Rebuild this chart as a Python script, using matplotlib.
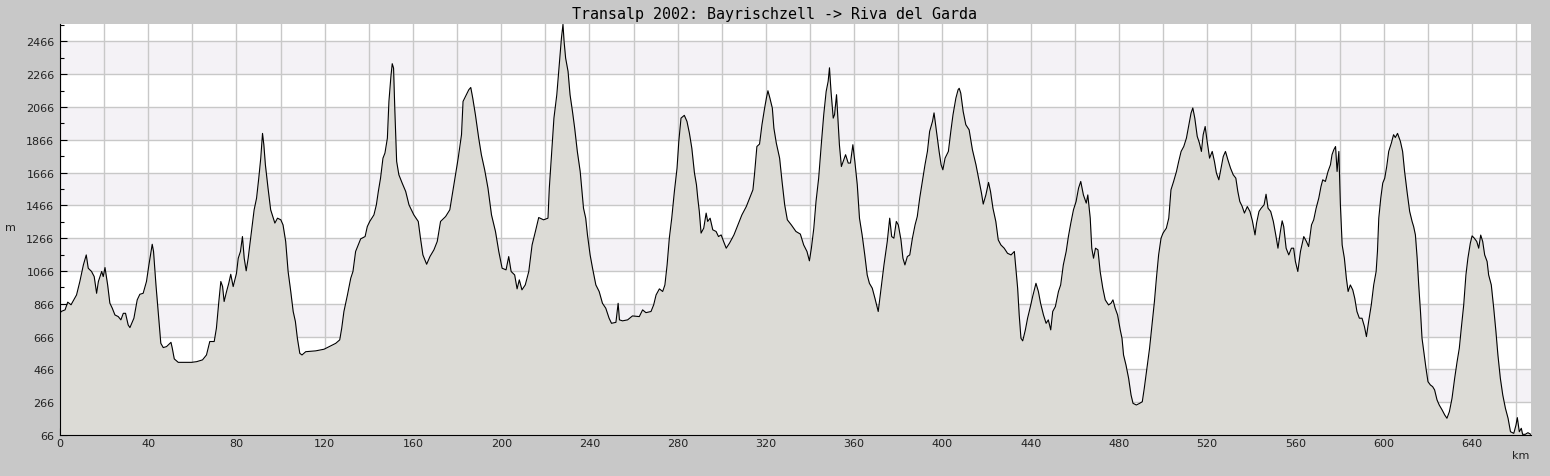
import numpy as np
import matplotlib
matplotlib.use('Agg')
import matplotlib.pyplot as plt
from matplotlib.ticker import FixedLocator, FuncFormatter

# elevation profile (km, m)
km = [0, 0.5, 2.3, 3.5, 5, 7.5, 9, 10.6, 11.9, 12.8, 14.3, 15.5, 16.6, 17.4, 18.9, 19.6, 20.4, 21.6, 22.6, 23.7,
      24.9, 26.4, 27.6, 28.7, 29.7, 30.9, 31.7, 33.5, 35, 36.2, 37.7, 39.2, 40.3, 41.8, 42.4, 43.5, 44.5, 45.7, 46.8, 48.3,
      50.3, 50.9, 51.8, 53.6, 59.6, 61.9, 64.6, 66.4, 67.9, 69.9, 70.9, 72, 72.9, 73.7, 74.4, 75.5, 76.5, 77.4, 78.5, 80,
      80.8, 81.8, 82.7, 83.5, 84.4, 85.3, 86.8, 88, 89.1, 90.1, 91, 91.8, 92.4, 93.1, 94.3, 95.5, 97.4, 98.6, 100.1, 101.1,
      102.3, 103.4, 104.6, 105.7, 106.7, 107.6, 108.7, 109.7, 111.4, 115.9, 119.7, 122.7, 125, 126.8, 127.7, 128.7, 130.3, 131.8, 132.8, 134,
      135.2, 136.3, 138.3, 139.3, 140.4, 142.3, 143.4, 144.3, 145.3, 146.4, 147.3, 148.4, 149.1, 150, 150.6, 151.2, 151.8, 152.6, 153.6, 155.1,
      156.7, 158.2, 160.4, 162.4, 163.4, 164.5, 166.2, 167.7, 169.5, 171, 172.5, 174.8, 176.7, 177.8, 179, 180.5, 182, 182.7, 183.8, 185.3,
      186.2, 187.1, 188.3, 189.8, 191, 192.5, 194, 195.6, 197.4, 198.9, 200.4, 202.2, 203.4, 204.5, 206.1, 207.2, 208.2, 209.4, 210.9, 212.5,
      214, 215.5, 217, 219.2, 221.2, 221.8, 222.7, 223.9, 225.2, 226.2, 227.3, 228, 228.5, 229.2, 230.3, 231.2, 232.3, 233.3, 234.5, 235.8,
      237.3, 238.3, 239.1, 240.3, 241.4, 242.9, 244.4, 245.9, 247.4, 248.9, 250, 252, 253, 253.6, 255, 257.3, 259.5, 262.6, 264.1, 265.6,
      267.9, 269.1, 270.2, 271.7, 273.2, 274.2, 275.2, 276.2, 277.3, 278.5, 279.7, 280.5, 281.5, 283, 284.2, 285.3, 286.4, 287.6, 288.5, 289.1,
      289.8, 290.6, 291.8, 292.9, 293.6, 294.7, 295.9, 297.4, 298.5, 299.7, 300.8, 302, 303.5, 305.5, 307.3, 309.1, 311.1, 312.6, 314.1, 314.8,
      315.9, 317.1, 318.2, 319.4, 320.2, 320.9, 321.8, 322.9, 323.6, 324.7, 326.2, 327.3, 328.5, 329.7, 331.5, 333.6, 335.6, 337.1, 338.6, 339.7,
      340.6, 341.7, 342.7, 343.9, 345.2, 346.2, 347.3, 348.2, 348.8, 349.5, 350.5, 351.1, 352, 352.6, 353.3, 354.2, 355, 356.1, 357.3, 358.3,
      359.4, 360.3, 361.4, 362.4, 363.6, 364.8, 365.9, 366.9, 368.2, 369.4, 370.5, 370.9, 372, 373.5, 375, 376.1, 377, 378, 379.1, 380,
      381.2, 382.1, 383, 384.1, 385.2, 386.4, 387.6, 388.6, 389.7, 390.9, 392.1, 393.2, 394.2, 395.5, 396.2, 397.3, 398.5, 399.4, 400.2, 401.2,
      402.7, 403.8, 404.8, 406.1, 407.1, 407.6, 408.3, 409.4, 410.6, 412.1, 413.6, 415.2, 416.7, 417.7, 418.5, 419.7, 420.9, 421.8, 422.9, 424.2,
      425.3, 426.5, 428, 429.5, 431.1, 432.6, 433.3, 434.1, 434.8, 435.6, 436.4, 437.6, 438.6, 439.7, 440.9, 442.4, 443.5, 444.5, 445.8, 447,
      448, 449.1, 450, 451.2, 452.6, 453.6, 454.8, 456.1, 457.1, 458.2, 459.4, 460.6, 461.7, 462.7, 463.9, 465.2, 465.9, 467, 467.7, 468.5,
      469.4, 470.5, 471.5, 472.7, 473.8, 475.3, 476.4, 477.3, 478.3, 479.4, 480.6, 481.4, 482.1, 483.2, 484.4, 485.5, 486.4, 487.9, 489.4, 490.6,
      491.5, 492.7, 493.9, 495, 496.1, 497, 498, 499.1, 500, 501.5, 502.6, 503.6, 504.8, 506.1, 507.1, 508.2, 509.4, 510.6, 511.7, 512.7,
      513.5, 514.4, 515.5, 516.5, 517.4, 518.2, 519.1, 520, 521.1, 522.3, 523.3, 524.2, 525.3, 526.3, 527.3, 528.3, 529.4, 530.6, 531.8, 533,
      533.9, 534.8, 535.9, 536.9, 538.2, 539.4, 540.5, 541.7, 542.4, 543.5, 544.5, 545.8, 546.7, 547.6, 548.8, 550, 551.1, 552.1, 553.2, 554,
      554.7, 555.8, 557, 558.2, 559.2, 560, 561.1, 562.3, 563.8, 565, 566, 567.3, 568.3, 569.4, 570.6, 571.6, 572.4, 573.6, 574.8, 575.9,
      576.6, 577.4, 578.2, 578.9, 579.7, 580.4, 581.2, 582.2, 583.1, 583.9, 584.9, 586, 586.9, 587.9, 589, 590.2, 591.3, 592.2, 593.2, 594.4,
      595.5, 596.6, 597.2, 597.8, 598.7, 599.6, 600.5, 601.4, 602.3, 603.5, 604.5, 605.3, 606.3, 607.6, 608.6, 609.5, 610.6, 611.8, 612.9, 613.6,
      614.4, 615.2, 615.9, 616.7, 617.4, 618.2, 619.2, 620.1, 621.2, 622.2, 623.1, 624.2, 625.2, 626.5, 627.7, 628.7, 629.8, 631, 632.2, 633.3,
      634.3, 635.2, 636.3, 637.3, 638.2, 639.3, 640.1, 641.1, 642.2, 643.1, 644, 644.9, 645.8, 646.9, 647.6, 648.8, 649.9, 650.9, 651.8, 652.9,
      654, 655.2, 656.4, 657.5, 659, 660, 660.6, 661.5, 662.4, 663, 664.2, 665.4, 666.7]
elev = [805, 819, 829, 876, 860, 920, 1002, 1103, 1164, 1083, 1063, 1032, 930, 1002, 1063, 1032, 1087, 981, 870, 839,
        798, 788, 768, 808, 808, 737, 721, 778, 890, 924, 930, 1002, 1103, 1229, 1185, 981, 819, 625, 599, 605,
        631, 595, 530, 509, 509, 513, 524, 554, 636, 636, 717, 880, 1002, 971, 880, 941, 991, 1046, 971, 1052,
        1144, 1185, 1276, 1144, 1067, 1144, 1307, 1439, 1510, 1632, 1754, 1905, 1836, 1714, 1571, 1439, 1358, 1388, 1378, 1347,
        1246, 1063, 941, 819, 758, 656, 564, 554, 574, 579, 589, 609, 625, 646, 717, 819, 920, 1022, 1063, 1185,
        1225, 1262, 1276, 1337, 1368, 1408, 1469, 1551, 1632, 1754, 1785, 1876, 2100, 2252, 2330, 2303, 2039, 1734, 1653, 1602,
        1551, 1469, 1408, 1368, 1266, 1164, 1107, 1154, 1195, 1246, 1368, 1398, 1439, 1530, 1632, 1754, 1897, 2100, 2130, 2171,
        2185, 2120, 2019, 1876, 1775, 1683, 1571, 1408, 1307, 1185, 1083, 1073, 1154, 1063, 1042, 957, 1012, 951, 981, 1063,
        1225, 1307, 1392, 1378, 1388, 1571, 1754, 1998, 2141, 2303, 2486, 2570, 2466, 2364, 2283, 2141, 2039, 1937, 1795, 1673,
        1449, 1388, 1286, 1164, 1083, 981, 941, 869, 839, 778, 747, 753, 869, 768, 762, 768, 792, 788, 829, 812,
        819, 859, 920, 957, 941, 981, 1103, 1266, 1388, 1551, 1693, 1856, 1998, 2015, 1978, 1907, 1815, 1663, 1592, 1510,
        1429, 1297, 1327, 1419, 1368, 1388, 1317, 1307, 1276, 1286, 1246, 1205, 1236, 1286, 1347, 1408, 1459, 1510, 1561, 1653,
        1825, 1840, 1958, 2059, 2120, 2165, 2120, 2059, 1937, 1846, 1754, 1612, 1469, 1378, 1347, 1307, 1291, 1225, 1185, 1128,
        1205, 1327, 1490, 1632, 1856, 2019, 2161, 2222, 2305, 2161, 1998, 2019, 2141, 1998, 1836, 1703, 1734, 1775, 1724, 1724,
        1836, 1734, 1592, 1388, 1286, 1164, 1042, 991, 961, 900, 839, 819, 941, 1103, 1246, 1388, 1276, 1266, 1368, 1347,
        1256, 1144, 1103, 1154, 1164, 1266, 1347, 1398, 1510, 1612, 1714, 1795, 1917, 1978, 2030, 1917, 1795, 1714, 1683, 1754,
        1795, 1917, 2019, 2120, 2171, 2180, 2151, 2039, 1958, 1927, 1805, 1714, 1612, 1541, 1474, 1530, 1606, 1551, 1449, 1368,
        1256, 1225, 1205, 1174, 1164, 1185, 1083, 961, 798, 656, 640, 707, 778, 839, 910, 991, 941, 869, 798, 747,
        768, 707, 819, 849, 941, 981, 1103, 1185, 1276, 1358, 1439, 1490, 1571, 1612, 1530, 1480, 1530, 1388, 1205, 1144,
        1205, 1195, 1063, 961, 890, 859, 869, 890, 839, 798, 707, 656, 554, 493, 412, 310, 259, 249, 259, 269,
        351, 473, 595, 737, 880, 1022, 1164, 1266, 1297, 1327, 1388, 1561, 1612, 1673, 1734, 1795, 1825, 1876, 1958, 2029,
        2060, 1998, 1887, 1846, 1795, 1897, 1947, 1856, 1754, 1795, 1734, 1663, 1622, 1693, 1764, 1795, 1744, 1693, 1653, 1632,
        1551, 1490, 1459, 1419, 1459, 1429, 1372, 1286, 1358, 1429, 1449, 1469, 1534, 1449, 1429, 1368, 1286, 1205, 1307, 1372,
        1337, 1205, 1164, 1205, 1205, 1124, 1063, 1185, 1276, 1246, 1215, 1347, 1378, 1449, 1510, 1581, 1622, 1612, 1673, 1714,
        1775, 1805, 1825, 1673, 1795, 1469, 1225, 1144, 1022, 941, 981, 951, 900, 819, 778, 778, 727, 666, 758, 859,
        981, 1063, 1185, 1388, 1510, 1602, 1632, 1703, 1795, 1846, 1897, 1880, 1905, 1856, 1795, 1673, 1551, 1429, 1368, 1337,
        1286, 1144, 981, 819, 656, 574, 473, 391, 371, 361, 341, 280, 249, 219, 188, 168, 208, 290, 412, 513,
        595, 717, 859, 1042, 1144, 1236, 1280, 1266, 1246, 1205, 1285, 1246, 1164, 1124, 1042, 981, 839, 697, 554, 412,
        310, 229, 168, 86, 76, 127, 172, 86, 107, 70, 70, 80, 70]

y_ticks = list(range(66, 2567, 200))
x_ticks = list(range(0, 661, 20))
x_labels = [0, 40, 80, 120, 160, 200, 240, 280, 320, 360, 400, 440, 480, 520, 560, 600, 640]

fig = plt.figure(figsize=(15.5, 4.77), dpi=100, facecolor='#c8c8c8')
ax = fig.add_axes([60 / 1550, 1 - 436 / 477, 1471 / 1550, 411 / 477])
ax.set_facecolor('white')
ax.set_xlim(0, 666.8)
ax.set_ylim(66, 2572)

# alternating bands between the grid lines
for i in range(1, len(y_ticks) - 1, 2):
    ax.axhspan(y_ticks[i], y_ticks[i + 1], color='#f4f2f6', zorder=0, lw=0)

ax.fill_between(km, 0, elev, color='#dcdbd6', zorder=2, lw=0)
ax.plot(km, elev, color='black', lw=0.8, zorder=3)

ax.set_axisbelow(True)
ax.yaxis.set_major_locator(FixedLocator(y_ticks))
ax.yaxis.set_minor_locator(FixedLocator([v + 100 for v in y_ticks]))
ax.xaxis.set_major_locator(FixedLocator(x_ticks))
ax.xaxis.set_minor_locator(FixedLocator([v + 10 for v in x_ticks]))
ax.xaxis.set_major_formatter(FuncFormatter(lambda v, p: str(int(v)) if int(v) in x_labels else ''))
ax.grid(True, which='major', color='#c8c8c8', lw=1)

ax.tick_params(which='both', direction='in', color='black', width=0.8)
ax.tick_params(which='major', length=5, labelsize=8, labelcolor='#222222')
ax.tick_params(which='minor', length=3)
ax.tick_params(axis='y', pad=4)
ax.tick_params(axis='x', pad=2)

for s in ['top', 'right']:
    ax.spines[s].set_visible(False)
for s in ['left', 'bottom']:
    ax.spines[s].set_color('black')
    ax.spines[s].set_linewidth(0.8)
    ax.spines[s].set_zorder(4)

fig.text(0.5, 1 - 14 / 477, 'Transalp 2002: Bayrischzell -> Riva del Garda',
         family='DejaVu Sans Mono', size=10.8, ha='center', va='center', color='black')
fig.text(10 / 1550, 1 - 228 / 477, 'm', size=8, ha='center', va='center', color='#222222')
fig.text(1521 / 1550, 1 - 456 / 477, 'km', size=8, ha='center', va='center', color='#222222')

fig.savefig('out.png', dpi=100, facecolor=fig.get_facecolor())
